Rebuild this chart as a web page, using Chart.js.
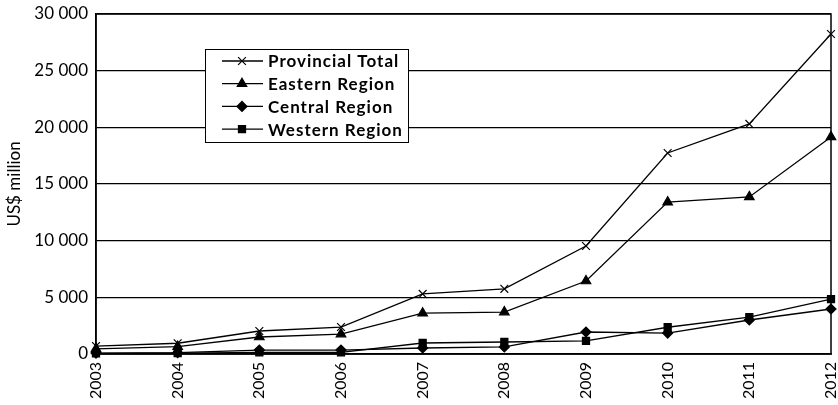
<!DOCTYPE html>
<html>
<head>
<meta charset="utf-8">
<script src="https://cdn.jsdelivr.net/npm/chart.js@4/dist/chart.umd.min.js"></script>
<style>
  html, body { margin: 0; padding: 0; background: #fff; }
  #wrap { width: 838px; height: 405px; }
</style>
</head>
<body>
<div id="wrap"><canvas id="chart" width="838" height="405"></canvas></div>
<script>
const years = ['2003','2004','2005','2006','2007','2008','2009','2010','2011','2012'];
const provincialTotal = [700, 950, 2030, 2380, 5300, 5750, 9530, 17740, 20300, 28240];
const easternRegion   = [450, 650, 1500, 1760, 3600, 3700, 6440, 13400, 13860, 19150];
const centralRegion   = [80, 120, 350, 350, 530, 620, 1940, 1850, 3000, 3970];
const westernRegion   = [50, 80, 150, 150, 970, 1060, 1150, 2360, 3250, 4850];
const yTicks = [0, 5000, 10000, 15000, 20000, 25000, 30000];

const FONT = 'Lato, "Liberation Sans", sans-serif';

function spaced(v){
    return String(v).replace(/\B(?=(\d{3})+(?!\d))/g, ' ');
}

function series(label, data, style, radius){
    return {
        label: label,
        data: data,
        borderColor: '#000',
        backgroundColor: '#000',
        borderWidth: 1.3,
        pointStyle: style,
        pointRadius: radius,
        pointBorderColor: '#000',
        pointBackgroundColor: '#000',
        pointBorderWidth: 1.2,
        tension: 0,
        clip: false
    };
}

// box around the plot area and the legend inside it
const framePlugin = {
    id: 'frame',
    afterDraw(chart){
        const ctx = chart.ctx;
        const a = chart.chartArea;
        ctx.save();
        ctx.strokeStyle = '#000';
        ctx.lineWidth = 1.5;
        ctx.strokeRect(a.left, a.top, a.right - a.left, a.bottom - a.top);

        const bx = a.left + 109, by = a.top + 35, bw = 203, bh = 93;
        ctx.fillStyle = '#fff';
        ctx.fillRect(bx, by, bw, bh);
        ctx.lineWidth = 1;
        ctx.strokeRect(bx + 0.5, by + 0.5, bw, bh);

        ctx.font = 'bold 17px ' + FONT;
        ctx.textBaseline = 'middle';
        ctx.textAlign = 'left';
        if ('letterSpacing' in ctx) ctx.letterSpacing = '1px';
        chart.data.datasets.forEach(function(ds, i){
            const y = by + 12 + i * 22.7;
            ctx.strokeStyle = '#000';
            ctx.lineWidth = 1.3;
            ctx.beginPath();
            ctx.moveTo(bx + 17, y);
            ctx.lineTo(bx + 58, y);
            ctx.stroke();
            ctx.fillStyle = '#000';
            ctx.lineWidth = 1.2;
            Chart.helpers.drawPoint(ctx, {pointStyle: ds.pointStyle, radius: ds.pointRadius, borderWidth: 1.2, rotation: 0}, bx + 37, y);
            ctx.fillStyle = '#000';
            ctx.fillText(ds.label, bx + 63, y + 1);
        });
        ctx.restore();
    }
};

new Chart(document.getElementById('chart').getContext('2d'), {
    type: 'line',
    data: {
        labels: years,
        datasets: [
            series('Provincial Total', provincialTotal, 'crossRot', 5.5),
            series('Eastern Region', easternRegion, 'triangle', 5.5),
            series('Central Region', centralRegion, 'rectRot', 5),
            series('Western Region', westernRegion, 'rect', 5)
        ]
    },
    options: {
        responsive: false,
        animation: false,
        layout: { padding: { top: 14, right: 7, left: 0, bottom: 0 } },
        plugins: {
            legend: { display: false },
            tooltip: { enabled: false }
        },
        scales: {
            x: {
                type: 'category',
                offset: false,
                grid: { display: false, drawTicks: false },
                border: { color: '#000', width: 1.5 },
                ticks: {
                    color: '#000',
                    font: { family: FONT, size: 16 },
                    maxRotation: 90,
                    minRotation: 90,
                    padding: 8,
                    autoSkip: false
                },
                afterFit: function(s){
                    s.height = 51;
                    s.paddingLeft = 0;
                    s.paddingRight = 0;
                }
            },
            y: {
                min: 0,
                max: 30000,
                afterBuildTicks: function(s){ s.ticks = yTicks.map(function(v){ return {value: v}; }); },
                grid: { color: '#000', lineWidth: 1.2, drawTicks: false },
                border: { color: '#000', width: 1.5 },
                ticks: {
                    color: '#000',
                    font: { family: FONT, size: 17 },
                    padding: 8,
                    callback: function(v){ return spaced(v); }
                },
                title: {
                    display: true,
                    text: 'US$ million',
                    color: '#000',
                    font: { family: FONT, size: 17 },
                    padding: { top: 4, bottom: 0 }
                },
                afterFit: function(s){
                    s.width = 96;
                    s.paddingTop = 0;
                    s.paddingBottom = 0;
                }
            }
        }
    },
    plugins: [framePlugin]
});
</script>
</body>
</html>
